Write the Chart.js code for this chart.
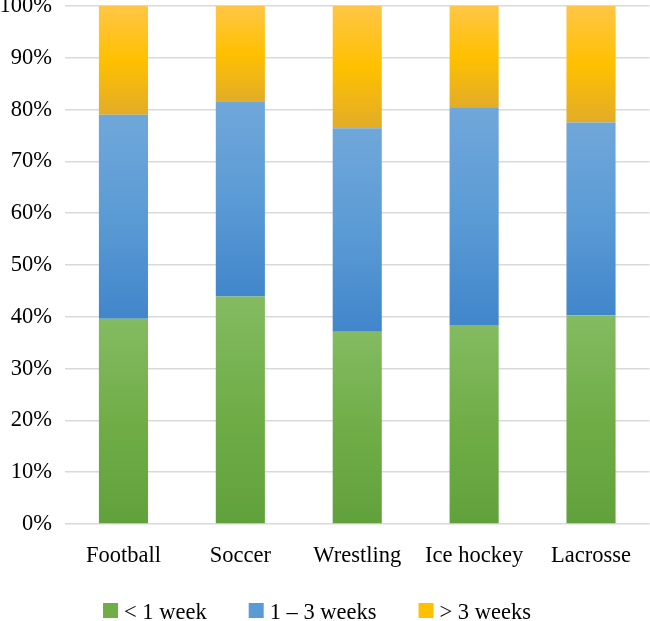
<!DOCTYPE html>
<html lang="en">
<head>
    <meta charset="UTF-8">
    <title>Time loss by sport</title>
    <style>
        body{ margin:0; background:#fff; }
        #wrap{ width:650px; height:621px; }
    </style>
</head>
<body>
    <div id="wrap">
        <canvas id="myc" width="650" height="621"></canvas>
    </div>

    <script src="https://cdn.jsdelivr.net/npm/chart.js"></script>
    <script>
        // data (percent of injuries per sport)
        var sports = ['Football', 'Soccer', 'Wrestling', 'Ice hockey', 'Lacrosse'];
        var lessWeek = [39.6, 43.9, 37.1, 38.4, 40.3];
        var oneToThree = [39.4, 37.7, 39.3, 41.9, 37.2];
        var moreThree = [21.0, 18.4, 23.6, 19.7, 22.5];
        var seriesNames = ['< 1 week', '1 \u2013 3 weeks', '> 3 weeks'];

        // excel-ish vertical gradients: top, middle, bottom
        var greens = ['#84bb62', '#70ad47', '#61a13c'];
        var blues = ['#70a7da', '#5b9bd5', '#4186cb'];
        var yellows = ['#ffc646', '#ffc000', '#e2ac28'];
        var fontName = '"Liberation Serif", "Times New Roman", serif';

        function segFill(stops) {
            return function (ctx) {
                var chart = ctx.chart;
                if (ctx.type !== 'data' || !chart.chartArea || !chart.scales.y) return stops[1];
                var y = chart.scales.y;
                var base = 0;
                for (var d = 0; d < ctx.datasetIndex; d++) {
                    base += chart.data.datasets[d].data[ctx.dataIndex];
                }
                var top = y.getPixelForValue(base + ctx.raw);
                var bot = y.getPixelForValue(base);
                var g = chart.ctx.createLinearGradient(0, top, 0, bot);
                g.addColorStop(0, stops[0]);
                g.addColorStop(0.5, stops[1]);
                g.addColorStop(1, stops[2]);
                return g;
            };
        }

        // legend drawn by hand so the spacing looks like the excel one
        var bottomLegend = {
            id: 'bottomLegend',
            afterDraw: function (chart) {
                var c = chart.ctx;
                var solid = [greens[1], blues[1], yellows[1]];
                c.save();
                c.font = '22.5px ' + fontName;
                var box = 15, gapText = 6, gapItem = 42;
                var items = chart.data.datasets.map(function (ds, i) {
                    return { text: ds.label, color: solid[i], w: c.measureText(ds.label).width };
                });
                var total = 0;
                items.forEach(function (it, i) { total += box + gapText + it.w + (i ? gapItem : 0); });
                var x = chart.width / 2 - 8 - total / 2;
                var boxTop = 603, baseline = 619;
                c.textBaseline = 'alphabetic';
                c.textAlign = 'left';
                items.forEach(function (it) {
                    c.fillStyle = it.color;
                    c.fillRect(x, boxTop, box, box);
                    c.fillStyle = '#000';
                    c.fillText(it.text, x + box + gapText, baseline);
                    x += box + gapText + it.w + gapItem;
                });
                c.restore();
            }
        };

        Chart.defaults.font.family = fontName;
        Chart.defaults.color = '#000';

        const ctx = document.getElementById('myc').getContext('2d');
        const myChart = new Chart(ctx, {
            type: 'bar',
            data: {
                labels: sports,
                datasets: [
                    { label: seriesNames[0], data: lessWeek, backgroundColor: segFill(greens) },
                    { label: seriesNames[1], data: oneToThree, backgroundColor: segFill(blues) },
                    { label: seriesNames[2], data: moreThree, backgroundColor: segFill(yellows) }
                ]
            },
            options: {
                responsive: false,
                animation: false,
                layout: { padding: { top: 6, right: 0, bottom: 32, left: 0 } },
                datasets: {
                    bar: { categoryPercentage: 1, barPercentage: 0.42 }
                },
                scales: {
                    x: {
                        stacked: true,
                        grid: { display: false, drawTicks: false },
                        border: { display: false },
                        ticks: { font: { size: 22.5 }, padding: 19 }
                    },
                    y: {
                        stacked: true,
                        min: 0,
                        max: 100,
                        border: { display: false },
                        grid: { color: '#d9d9d9', lineWidth: 1.5, drawTicks: false },
                        ticks: {
                            stepSize: 10,
                            padding: 13,
                            font: { size: 22.5 },
                            callback: function (v) { return v + '%'; }
                        },
                        // the top label is allowed to hang off the canvas like in the original
                        afterFit: function (scale) {
                            scale.paddingTop = 0;
                            scale.paddingBottom = 0;
                            scale.width = 65;
                        }
                    }
                },
                plugins: {
                    tooltip: { enabled: false },
                    legend: { display: false }
                }
            },
            plugins: [bottomLegend]
        });
    </script>
</body>
</html>
